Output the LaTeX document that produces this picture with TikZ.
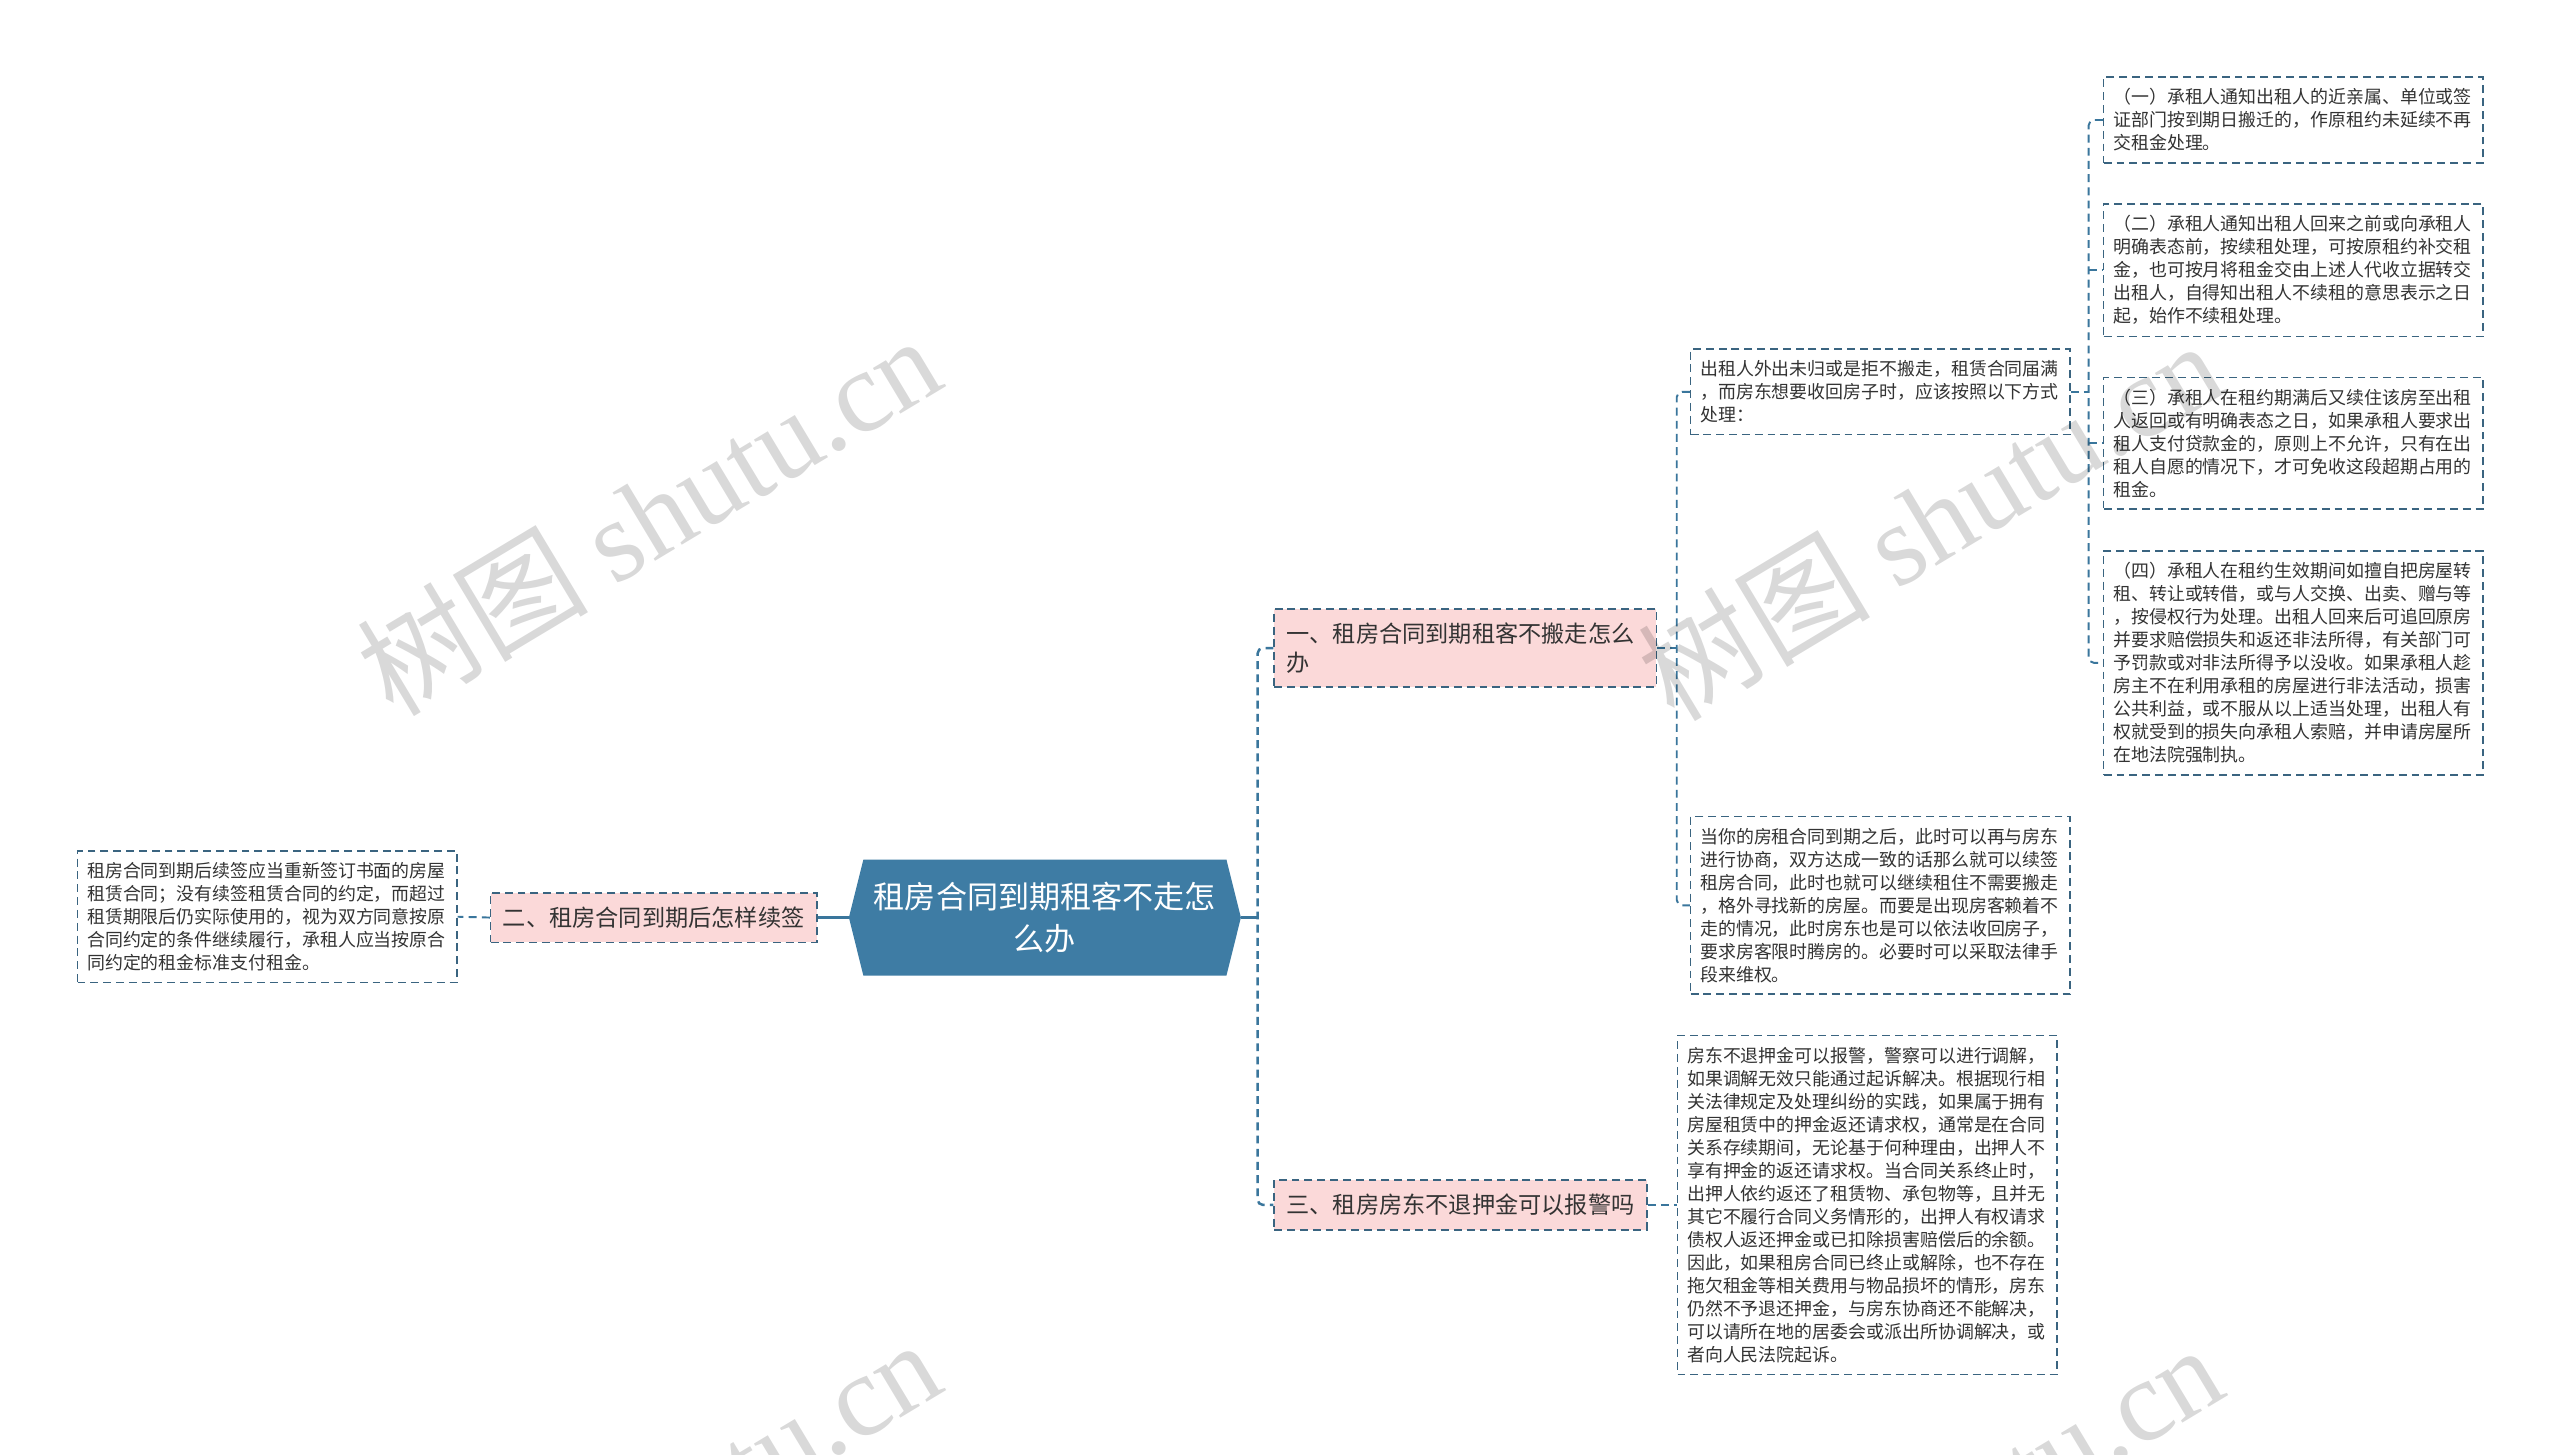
\documentclass[tikz,border=0pt]{standalone}
\usepackage{fontspec}
\setmainfont{Noto Sans CJK SC}
\newfontfamily\wmfont{Liberation Serif}
\usetikzlibrary{shapes.symbols}
\definecolor{rootblue}{RGB}{62,124,164}
\definecolor{linkblue}{RGB}{58,118,156}
\definecolor{edgeblue}{RGB}{58,100,128}
\definecolor{branchpink}{RGB}{251,217,217}
\definecolor{leaftext}{RGB}{51,51,51}
\tikzset{
  rootbox/.style={
    shape=signal, signal to=east and west, signal pointer angle=152,
    fill=rootblue, text=white,
    minimum width=7.84cm, minimum height=2.32cm,
    inner xsep=0pt, inner ysep=0pt,
    align=center, font=\fontsize{17.7pt}{24pt}\selectfont},
  branchbox/.style={
    rectangle, fill=branchpink, draw=edgeblue, line width=0.9pt,
    dash pattern=on 4.5pt off 2.8pt,
    inner xsep=7pt, inner ysep=8pt, text=leaftext,
    align=left, font=\fontsize{13.2pt}{16pt}\selectfont, anchor=west},
  leafbox/.style={
    rectangle, draw=edgeblue, line width=0.9pt, fill=white,
    dash pattern=on 4.5pt off 2.8pt,
    text width=7.2cm, inner xsep=5.5pt, inner ysep=6.5pt, text=leaftext,
    align=left, font=\fontsize{10.2pt}{13.1pt}\selectfont, anchor=west},
  mainlink/.style={draw=linkblue, line width=1.4pt},
  link/.style={draw=linkblue, line width=1.1pt, dash pattern=on 4.5pt off 3pt, rounded corners=3pt},
  watermark/.style={font=\fontsize{66pt}{66pt}\selectfont, text=black, text opacity=0.15, rotate=31},
}

\begin{document}
\begin{tikzpicture}[x=0.03265cm, y=-0.03265cm]
\useasboundingbox (0,0) rectangle (1568,890.6);
\fill[white] (0,0) rectangle (1568,890.6);

\node[rootbox] (root) at (640,562) {租房合同到期租客不走怎\\么办};

\node[branchbox] (B2) at (300,562) {二、租房合同到期后怎样续签};
\node[leafbox] (L0) at (47,561.5) {租房合同到期后续签应当重新签订书面的房屋\\租赁合同；没有续签租赁合同的约定，而超过\\租赁期限后仍实际使用的，视为双方同意按原\\合同约定的条件继续履行，承租人应当按原合\\同约定的租金标准支付租金。};

\node[branchbox, text width=7.15cm] (B1) at (780,397) {一、租房合同到期租客不搬走怎么\\办};
\node[branchbox] (B3) at (780,738) {三、租房房东不退押金可以报警吗};

\node[leafbox] (A1) at (1035,240) {出租人外出未归或是拒不搬走，租赁合同届满\\，而房东想要收回房子时，应该按照以下方式\\处理：};
\node[leafbox] (A2) at (1035,554.5) {当你的房租合同到期之后，此时可以再与房东\\进行协商，双方达成一致的话那么就可以续签\\租房合同，此时也就可以继续租住不需要搬走\\，格外寻找新的房屋。而要是出现房客赖着不\\走的情况，此时房东也是可以依法收回房子，\\要求房客限时腾房的。必要时可以采取法律手\\段来维权。};
\node[leafbox] (C1) at (1027,738) {房东不退押金可以报警，警察可以进行调解，\\如果调解无效只能通过起诉解决。根据现行相\\关法律规定及处理纠纷的实践，如果属于拥有\\房屋租赁中的押金返还请求权，通常是在合同\\关系存续期间，无论基于何种理由，出押人不\\享有押金的返还请求权。当合同关系终止时，\\出押人依约返还了租赁物、承包物等，且并无\\其它不履行合同义务情形的，出押人有权请求\\债权人返还押金或已扣除损害赔偿后的余额。\\因此，如果租房合同已终止或解除，也不存在\\拖欠租金等相关费用与物品损坏的情形，房东\\仍然不予退还押金，与房东协商还不能解决，\\可以请所在地的居委会或派出所协调解决，或\\者向人民法院起诉。};

\node[leafbox] (S1) at (1288,73.5) {（一）承租人通知出租人的近亲属、单位或签\\证部门按到期日搬迁的，作原租约未延续不再\\交租金处理。};
\node[leafbox] (S2) at (1288,165.5) {（二）承租人通知出租人回来之前或向承租人\\明确表态前，按续租处理，可按原租约补交租\\金，也可按月将租金交由上述人代收立据转交\\出租人，自得知出租人不续租的意思表示之日\\起，始作不续租处理。};
\node[leafbox] (S3) at (1288,271.5) {（三）承租人在租约期满后又续住该房至出租\\人返回或有明确表态之日，如果承租人要求出\\租人支付贷款金的，原则上不允许，只有在出\\租人自愿的情况下，才可免收这段超期占用的\\租金。};
\node[leafbox] (S4) at (1288,406) {（四）承租人在租约生效期间如擅自把房屋转\\租、转让或转借，或与人交换、出卖、赠与等\\，按侵权行为处理。出租人回来后可追回原房\\并要求赔偿损失和返还非法所得，有关部门可\\予罚款或对非法所得予以没收。如果承租人趁\\房主不在利用承租的房屋进行非法活动，损害\\公共利益，或不服从以上适当处理，出租人有\\权就受到的损失向承租人索赔，并申请房屋所\\在地法院强制执。};

% connectors
\draw[mainlink] (root.west) -- (B2.east);
\draw[link] (B2.west) -- (L0.east);
\draw[mainlink] (root.east) -- ++(10,0) coordinate (rs);
\draw[link, line width=1.4pt] (B1.west) -| (rs) |- (B3.west);
\draw[link] (B1.east) -- ++(12,0) coordinate (b1s);
\draw[link] (A1.west) -| (b1s) |- (A2.west);
\draw[link] (B3.east) -- (C1.west);
\draw[link] (A1.east) -- ++(11,0) coordinate (a1s);
\draw[link] (S1.west) -| (a1s) |- (S4.west);
\foreach \n in {S2,S3}
  \draw[link] (a1s |- \n.west) -- (\n.west);

% watermark
\begin{scope}
\clip (0,0) rectangle (1568,890.6);
\foreach \wx/\wy [count=\i] in {397/315, 1182/318, 397/930, 1182/933}
  \node[watermark] (wm\i) at (\wx,\wy) {树图 {\wmfont shutu.cn}};
\end{scope}
\end{tikzpicture}
\end{document}
